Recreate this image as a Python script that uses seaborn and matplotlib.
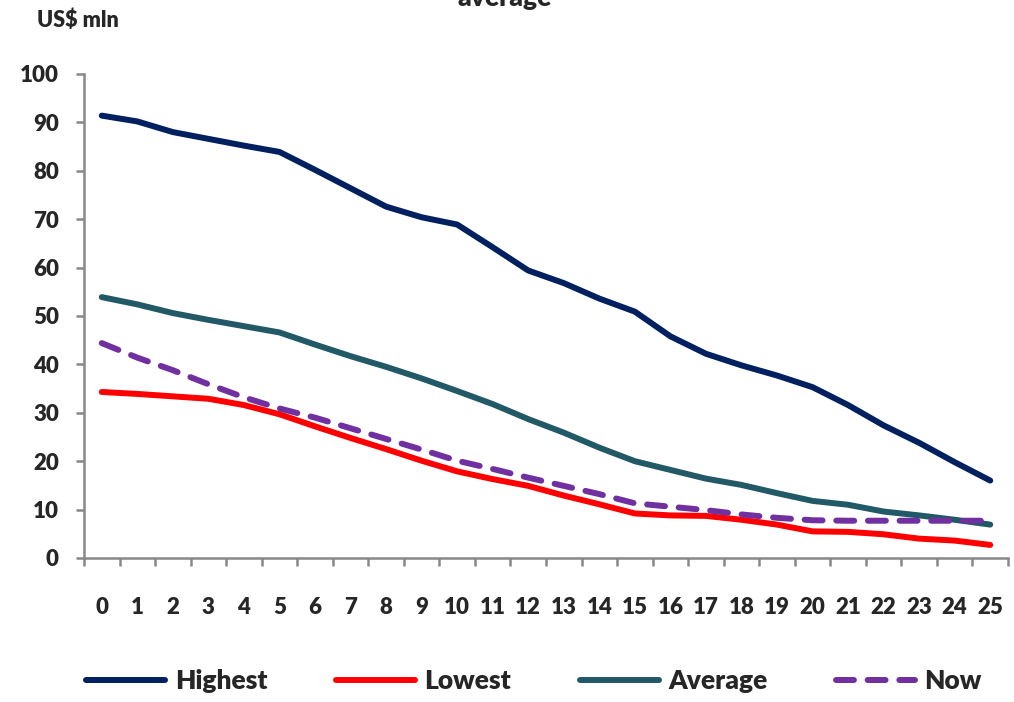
import pandas as pd
import matplotlib.pyplot as plt
import seaborn as sns
import numpy as np

# values (US$ mln)
periods = list(range(26))
highest = [91.4, 90.2, 88.0, 86.6, 85.2, 83.9, 80.2, 76.4, 72.6, 70.4, 68.9, 64.2, 59.4,
           56.8, 53.6, 50.9, 45.8, 42.2, 39.8, 37.7, 35.3, 31.6, 27.4, 23.8, 19.8, 16.0]
lowest = [34.3, 33.9, 33.4, 32.9, 31.6, 29.7, 27.2, 24.8, 22.5, 20.1, 17.9, 16.3, 14.9,
          12.9, 11.1, 9.2, 8.8, 8.7, 7.9, 6.9, 5.5, 5.4, 4.9, 4.0, 3.6, 2.7]
average = [53.9, 52.4, 50.6, 49.2, 47.9, 46.6, 44.1, 41.7, 39.5, 37.1, 34.5, 31.8, 28.7,
           25.9, 22.8, 20.0, 18.2, 16.4, 15.1, 13.4, 11.8, 11.0, 9.6, 8.8, 7.9, 6.9]
now = [44.4, 41.4, 38.8, 35.9, 33.2, 30.9, 29.0, 26.8, 24.6, 22.4, 20.1, 18.4, 16.6,
       14.9, 13.2, 11.3, 10.6, 9.9, 9.0, 8.3, 7.8, 7.7, 7.7, 7.7, 7.7, 7.7]

series_names = ['Highest', 'Lowest', 'Average', 'Now']
colors = {'Highest': '#002060', 'Lowest': '#FF0000', 'Average': '#215967', 'Now': '#7030A0'}
dash_map = {'Highest': '', 'Lowest': '', 'Average': '', 'Now': (3.0, 2.3)}

df = pd.DataFrame({'Period': periods, 'Highest': highest, 'Lowest': lowest,
                   'Average': average, 'Now': now})
df_long = df.melt(id_vars='Period', var_name='Series', value_name='Value')

sns.set_style('white')
plt.rcParams['font.family'] = ['Lato', 'DejaVu Sans']
plt.rcParams['font.weight'] = 'heavy'

fig = plt.figure(figsize=(10.14, 7.02), dpi=100)
ax = fig.add_axes([84 / 1014, 1 - 558 / 702, (1008 - 84) / 1014, (558 - 74) / 702])

sns.lineplot(data=df_long, x='Period', y='Value', hue='Series', style='Series',
             hue_order=series_names, style_order=series_names,
             palette=colors, dashes=dash_map, linewidth=4.3, ax=ax)

for ln in ax.get_lines():
    ln.set_dash_capstyle('round')
    ln.set_solid_capstyle('round')
    ln.set_solid_joinstyle('round')

ax.set_xlim(-0.5, 25.5)
ax.set_ylim(0, 100)
ax.set_yticks(np.arange(0, 101, 10))
ax.set_xticks(periods)
ax.set_xticks(np.arange(-0.5, 26, 1), minor=True)
ax.set_xlabel('')
ax.set_ylabel('')

for s in ['top', 'right']:
    ax.spines[s].set_visible(False)
for s in ['left', 'bottom']:
    ax.spines[s].set_color('#888888')
    ax.spines[s].set_linewidth(1.8)

ax.tick_params(axis='y', which='major', direction='out', length=6, width=1.8,
               color='#888888', pad=12, labelsize=16, left=True)
ax.tick_params(axis='x', which='major', length=0, pad=28, labelsize=16, bottom=True)
ax.tick_params(axis='x', which='minor', direction='out', length=6, width=1.8,
               color='#888888', bottom=True)
for lab in ax.get_xticklabels() + ax.get_yticklabels():
    lab.set_fontweight('heavy')

fig.text(37 / 1014, 1 - 27 / 702, 'US$ mln', fontsize=15.5, fontweight='heavy',
         ha='left', va='baseline')
fig.text(505 / 1014, 1 - 6 / 702, 'average', fontsize=19, fontweight='heavy',
         ha='center', va='baseline')

handles, labels = ax.get_legend_handles_labels()
ax.legend(handles, labels, loc='center', bbox_to_anchor=(0.487, -0.255), ncol=4,
          frameon=False, handlelength=3.0, columnspacing=2.6,
          handletextpad=0.35, prop={'weight': 'heavy', 'size': 19})

fig.savefig('out.png', dpi=100)
